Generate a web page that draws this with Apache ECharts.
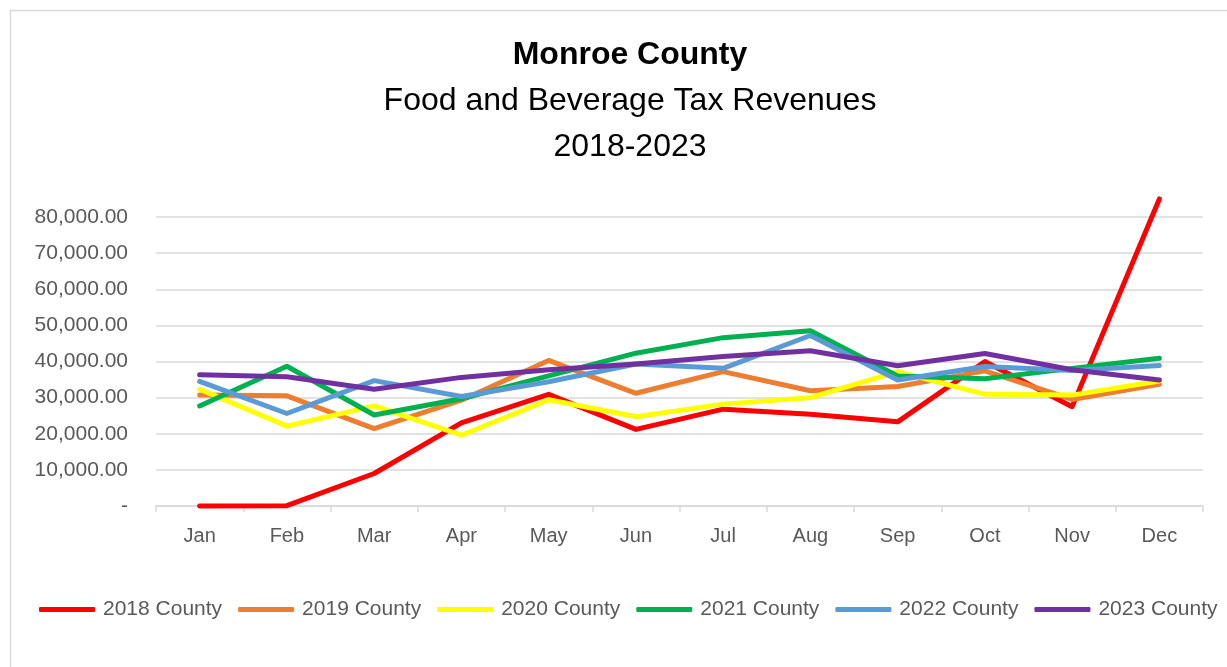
<!DOCTYPE html>
<html>
<head>
<meta charset="utf-8">
<script src="https://cdn.jsdelivr.net/npm/echarts@6/dist/echarts.min.js"></script>
<style>
html,body{margin:0;padding:0;background:#fff;}
#chart{width:1227px;height:667px;}
</style>
</head>
<body>
<div id="chart"></div>
<script>
var months = ['Jan','Feb','Mar','Apr','May','Jun','Jul','Aug','Sep','Oct','Nov','Dec'];
var seriesNames = ['2018 County','2019 County','2020 County','2021 County','2022 County','2023 County'];
var y2018 = [0, 100, 9000, 23000, 30900, 21200, 26800, 25400, 23300, 40000, 27500, 85000];
var y2019 = [30700, 30500, 21400, 29300, 40300, 31200, 37200, 31900, 33100, 37400, 29500, 33700];
var y2020 = [32300, 22100, 27700, 19600, 29400, 24700, 28200, 30000, 37200, 30900, 30700, 34600];
var y2021 = [27700, 38700, 25200, 29700, 36000, 42300, 46600, 48500, 36000, 35200, 38100, 40900];
var y2022 = [34500, 25600, 34700, 30300, 34400, 39300, 38100, 47200, 34900, 38600, 37500, 38900];
var y2023 = [36300, 35800, 32300, 35600, 37700, 39300, 41400, 43000, 38800, 42200, 37700, 34900];
var yTicks = {min: 0, max: 80000, interval: 10000};
var colors = ['#FF0000','#ED7D31','#FFFF00','#00B050','#5B9BD5','#7030A0'];
var titleLines = ['Monroe County', 'Food and Beverage Tax Revenues', '2018-2023'];

var allData = [y2018, y2019, y2020, y2021, y2022, y2023];
var FONT = '"Liberation Sans", Arial, sans-serif';

var chart = echarts.init(document.getElementById('chart'), null, {renderer: 'canvas'});

var series = seriesNames.map(function (name, i) {
  return {
    name: name,
    type: 'line',
    data: allData[i],
    symbol: 'none',
    clip: false,
    smooth: false,
    lineStyle: {color: colors[i], width: 5, cap: 'round', join: 'round'},
    itemStyle: {color: colors[i]},
    emphasis: {disabled: true}
  };
});

var option = {
  backgroundColor: '#ffffff',
  animation: false,
  title: [
    {text: titleLines[0], left: 625, top: 34, textAlign: 'center',
     textStyle: {fontFamily: FONT, fontSize: 32, fontWeight: 'bold', color: '#000'}},
    {text: titleLines[1], left: 625, top: 80, textAlign: 'center',
     textStyle: {fontFamily: FONT, fontSize: 32, fontWeight: 'normal', color: '#000'}},
    {text: titleLines[2], left: 625, top: 126, textAlign: 'center',
     textStyle: {fontFamily: FONT, fontSize: 32, fontWeight: 'normal', color: '#000'}}
  ],
  graphic: [
    {type: 'rect', left: 8, top: 8, silent: true,
     shape: {width: 1260, height: 700},
     style: {fill: 'none', stroke: '#d9d9d9', lineWidth: 1.5}, z: -1}
  ],
  legend: {
    data: seriesNames,
    left: 34,
    top: 594,
    icon: 'roundRect',
    itemWidth: 56,
    itemHeight: 5,
    itemGap: 16,
    textStyle: {fontFamily: FONT, fontSize: 21, color: '#595959', padding: [0, 0, 0, 3]}
  },
  grid: {left: 156, right: 24, top: 217, bottom: 161, containLabel: false},
  xAxis: {
    type: 'category',
    data: months,
    boundaryGap: true,
    axisLine: {show: true, lineStyle: {color: '#d9d9d9', width: 1.5}},
    axisTick: {show: true, length: 6, lineStyle: {color: '#d9d9d9', width: 1.5}},
    axisLabel: {fontFamily: FONT, fontSize: 20, color: '#595959', margin: 20, interval: 0},
    splitLine: {show: false}
  },
  yAxis: {
    type: 'value',
    min: yTicks.min,
    max: yTicks.max,
    interval: yTicks.interval,
    axisLine: {show: false},
    axisTick: {show: false},
    splitLine: {lineStyle: {color: '#d9d9d9', width: 1.5}},
    axisLabel: {
      fontFamily: FONT, fontSize: 21, color: '#595959', margin: 28,
      formatter: function (v) {
        if (v === 0) return '-';
        return v.toLocaleString('en-US', {minimumFractionDigits: 2, maximumFractionDigits: 2});
      }
    }
  },
  series: series
};
chart.setOption(option);
</script>
</body>
</html>
